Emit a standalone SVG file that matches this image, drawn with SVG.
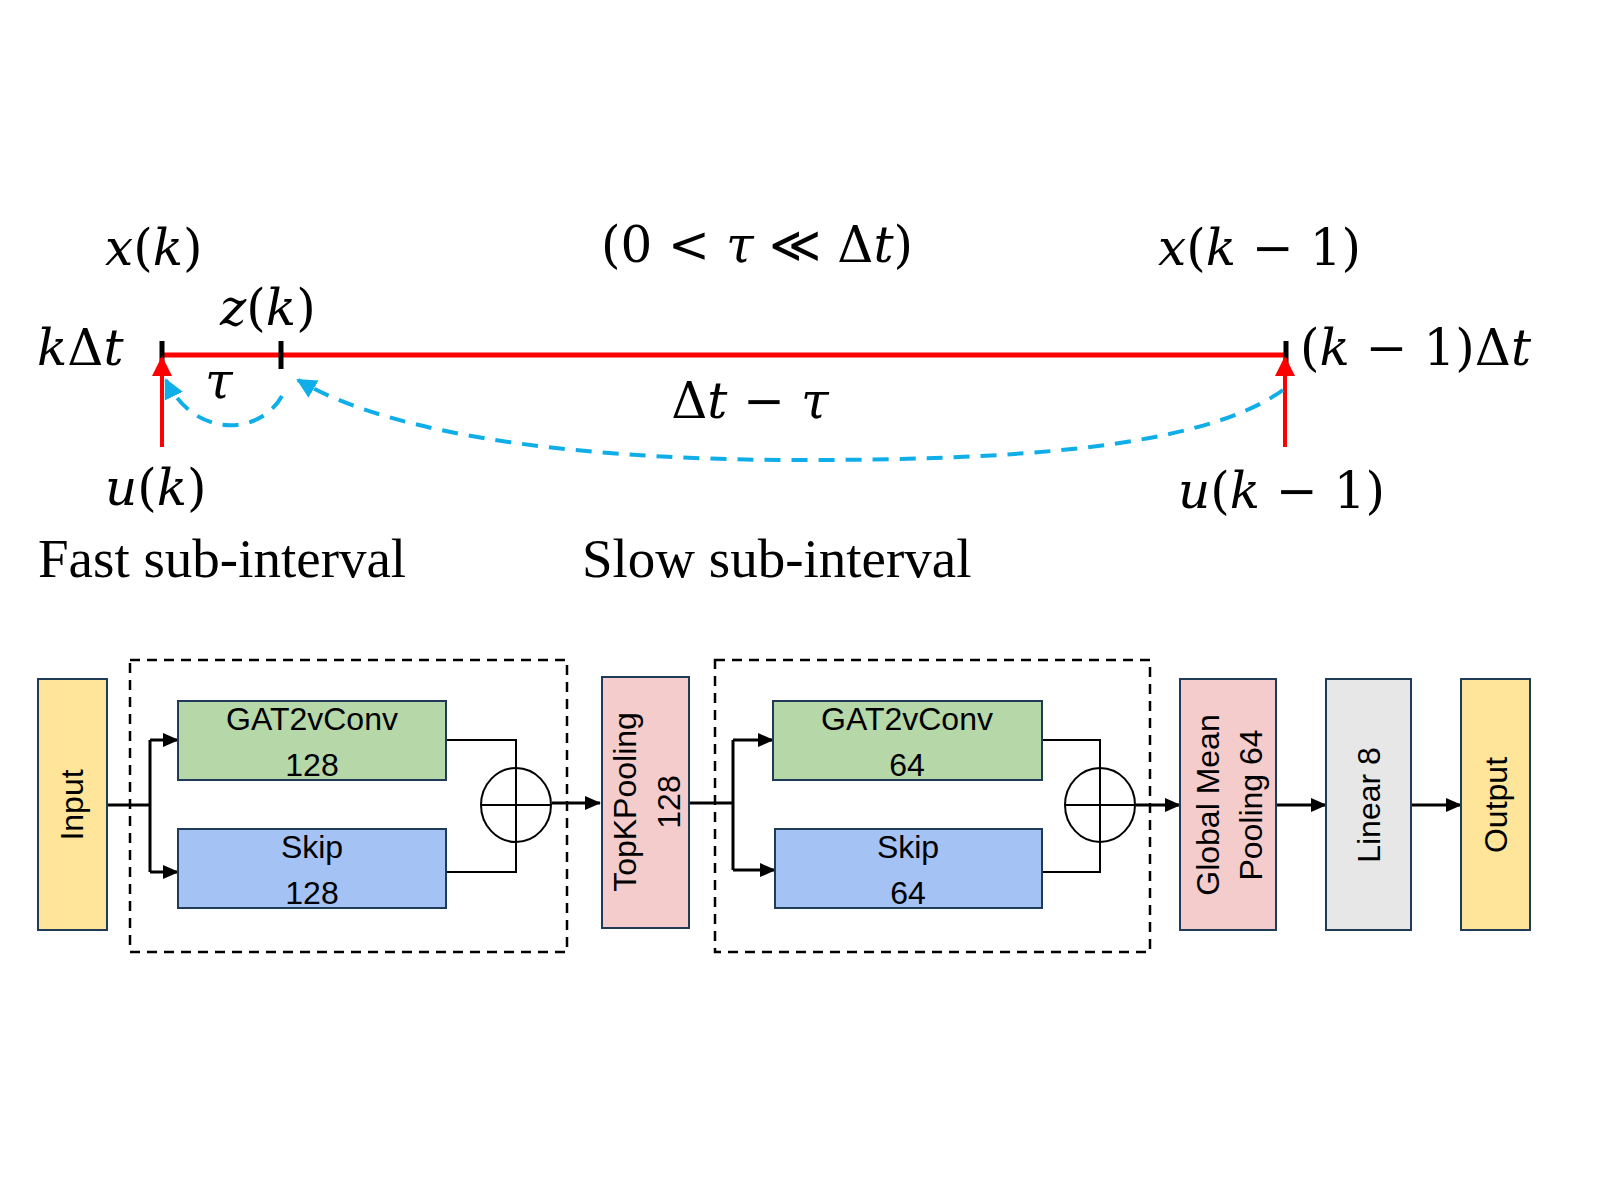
<svg xmlns="http://www.w3.org/2000/svg" width="1600" height="1200" viewBox="0 0 1600 1200">
<defs>
<style>
.m{font-family:"DejaVu Serif","Liberation Serif",serif;font-size:50px;fill:#000}
.i{font-style:italic}
.t{font-family:"Liberation Serif",serif;font-size:55px;fill:#000}
.s{font-family:"Liberation Sans",Arial,sans-serif;font-size:32px;fill:#000;text-anchor:middle}
.box{stroke:#1f3b57;stroke-width:2}
.ln{stroke:#000;stroke-width:2;fill:none}
.lk{stroke:#000;stroke-width:3;fill:none}
.dash{stroke:#000;stroke-width:2.5;fill:none;stroke-dasharray:10,7}
.blue{stroke:#10aee8;stroke-width:4;fill:none;stroke-dasharray:16,11}
</style>
<marker id="ahk" markerWidth="16" markerHeight="14" refX="15" refY="7" orient="auto" markerUnits="userSpaceOnUse"><path d="M0,0 L16,7 L0,14 z" fill="#000"/></marker>
<marker id="ar" markerWidth="20" markerHeight="20" refX="18" refY="10" orient="auto" markerUnits="userSpaceOnUse"><path d="M0,0 L20,10 L0,20 z" fill="#ff0000"/></marker>
<marker id="ab" markerWidth="20" markerHeight="20" refX="18" refY="10" orient="auto" markerUnits="userSpaceOnUse"><path d="M0,0 L20,10 L0,20 z" fill="#10aee8"/></marker>
</defs>
<rect width="1600" height="1200" fill="#fff"/>
<g id="timeline">
<line x1="162" y1="355" x2="1286" y2="355" stroke="#ff0000" stroke-width="5"/>
<line x1="162" y1="341" x2="162" y2="369" stroke="#000" stroke-width="5"/>
<line x1="281" y1="341" x2="281" y2="369" stroke="#000" stroke-width="5"/>
<line x1="1286" y1="341" x2="1286" y2="369" stroke="#000" stroke-width="5"/>
</g>
<g id="connectors">
<line x1="162" y1="447" x2="162" y2="358" stroke="#ff0000" stroke-width="4" marker-end="url(#ar)"/>
<line x1="1285" y1="447" x2="1285" y2="358" stroke="#ff0000" stroke-width="4" marker-end="url(#ar)"/>
<path class="blue" d="M282,396 C260,435 195,440 166,380" marker-end="url(#ab)"/>
<path class="blue" d="M1283,390 C1200,450 1000,460 800,460 C600,460 400,440 298,380" marker-end="url(#ab)"/>
<path class="lk" d="M107,805 H150 M150,740 V872"/>
<line class="lk" x1="150" y1="740" x2="178" y2="740" marker-end="url(#ahk)"/>
<line class="lk" x1="150" y1="872" x2="178" y2="872" marker-end="url(#ahk)"/>
<path class="ln" d="M446,740 H516 V768 M446,872 H516 V842"/>
<line class="lk" x1="552" y1="803" x2="600" y2="803" marker-end="url(#ahk)"/>
<path class="lk" d="M689,803 H733 M733,740 V870"/>
<line class="lk" x1="733" y1="740" x2="773" y2="740" marker-end="url(#ahk)"/>
<line class="lk" x1="733" y1="870" x2="775" y2="870" marker-end="url(#ahk)"/>
<path class="ln" d="M1042,740 H1100 V768 M1042,872 H1100 V842"/>
<line class="lk" x1="1136" y1="805" x2="1180" y2="805" marker-end="url(#ahk)"/>
<line class="lk" x1="1276" y1="805" x2="1326" y2="805" marker-end="url(#ahk)"/>
<line class="lk" x1="1411" y1="805" x2="1461" y2="805" marker-end="url(#ahk)"/>
</g>
<g id="labels">
<text class="m" x="105" y="265"><tspan class="i">x</tspan>(<tspan class="i">k</tspan>)</text>
<text class="m" x="757" y="262" text-anchor="middle">(0 &lt; <tspan class="i">τ</tspan> ≪ Δ<tspan class="i">t</tspan>)</text>
<text class="m" x="1158" y="265"><tspan class="i">x</tspan>(<tspan class="i">k</tspan> − 1)</text>
<text class="m" x="220" y="325"><tspan class="i">z</tspan>(<tspan class="i">k</tspan>)</text>
<text class="m" x="37" y="365"><tspan class="i">k</tspan>Δ<tspan class="i">t</tspan></text>
<text class="m" x="1300" y="365">(<tspan class="i">k</tspan> − 1)Δ<tspan class="i">t</tspan></text>
<text class="m i" x="205" y="398">τ</text>
<text class="m" x="750" y="418" text-anchor="middle">Δ<tspan class="i">t</tspan> − <tspan class="i">τ</tspan></text>
<text class="m" x="105" y="505"><tspan class="i">u</tspan>(<tspan class="i">k</tspan>)</text>
<text class="m" x="1178" y="508"><tspan class="i">u</tspan>(<tspan class="i">k</tspan> − 1)</text>
<text class="t" x="38" y="577">Fast sub-interval</text>
<text class="t" x="582" y="577">Slow sub-interval</text>
</g>
<rect class="dash" x="130" y="660" width="437" height="292"/>
<rect class="dash" x="715" y="660" width="435" height="292"/>
<g id="input"><rect class="box" x="38" y="679" width="69" height="251" fill="#ffe599"/><text class="s" transform="translate(83,805) rotate(-90)">Input</text></g>
<g id="gat1"><rect class="box" x="178" y="701" width="268" height="79" fill="#b6d7a8"/><text class="s" x="312" y="730">GAT2vConv</text><text class="s" x="312" y="776">128</text></g>
<g id="skip1"><rect class="box" x="178" y="829" width="268" height="79" fill="#a4c2f4"/><text class="s" x="312" y="858">Skip</text><text class="s" x="312" y="904">128</text></g>
<g id="add1"><ellipse class="ln" cx="516" cy="805" rx="35" ry="37"/><path class="ln" d="M481,805 H551 M516,768 V842"/></g>
<g id="topk"><rect class="box" x="602" y="677" width="87" height="251" fill="#f4cccc"/><text class="s" transform="translate(636,802) rotate(-90)">TopKPooling</text><text class="s" transform="translate(680,802) rotate(-90)">128</text></g>
<g id="gat2"><rect class="box" x="773" y="701" width="269" height="79" fill="#b6d7a8"/><text class="s" x="907" y="730">GAT2vConv</text><text class="s" x="907" y="776">64</text></g>
<g id="skip2"><rect class="box" x="775" y="829" width="267" height="79" fill="#a4c2f4"/><text class="s" x="908" y="858">Skip</text><text class="s" x="908" y="904">64</text></g>
<g id="add2"><ellipse class="ln" cx="1100" cy="805" rx="35" ry="37"/><path class="ln" d="M1065,805 H1135 M1100,768 V842"/></g>
<g id="gmp"><rect class="box" x="1180" y="679" width="96" height="251" fill="#f4cccc"/><text class="s" transform="translate(1219,805) rotate(-90)">Global Mean</text><text class="s" transform="translate(1262,805) rotate(-90)">Pooling 64</text></g>
<g id="linear"><rect class="box" x="1326" y="679" width="85" height="251" fill="#e7e7e7"/><text class="s" transform="translate(1380,805) rotate(-90)">Linear 8</text></g>
<g id="output"><rect class="box" x="1461" y="679" width="69" height="251" fill="#ffe599"/><text class="s" transform="translate(1507,805) rotate(-90)">Output</text></g>
</svg>
